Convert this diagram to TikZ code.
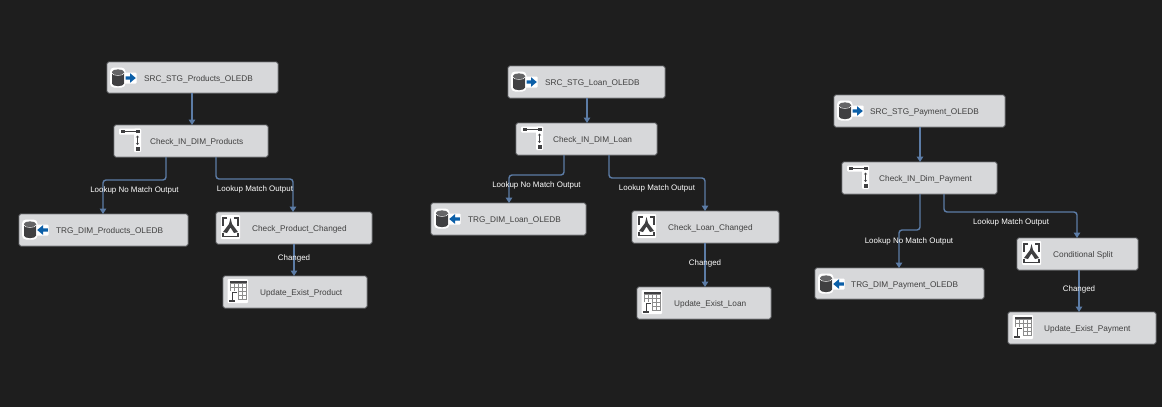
\documentclass[tikz,border=0pt]{standalone}
\usepackage{fontspec}
\setmainfont{Liberation Sans}
\usetikzlibrary{arrows.meta}
\definecolor{bgc}{HTML}{1E1E1E}
\definecolor{boxfill}{HTML}{D7D8DA}
\definecolor{boxline}{HTML}{77797D}
\definecolor{flowc}{HTML}{5C7CA6}
\definecolor{icodark}{HTML}{3F3F41}
\definecolor{icoblue}{HTML}{0B5FA8}
\definecolor{txt}{HTML}{404040}
\tikzset{
  taskbox/.style={draw=boxline,line width=.9pt,fill=boxfill,rounded corners=1.8pt,inner sep=0pt,outer sep=0pt},
  tasktext/.style={anchor=west,inner sep=0pt,yshift=-1.5pt,text=txt,font=\fontsize{8.25}{10}\selectfont},
  flowlab/.style={inner sep=0pt,yshift=-1.2pt,text=white,font=\fontsize{7.95}{9.5}\selectfont},
  flow/.style={draw=flowc,line width=1.4pt,rounded corners=3pt,-{Triangle[width=6.5pt,length=5.5pt]}}
}
% icons: drawn relative to top-left corner of a box
\newcommand{\dbshape}{%
  \fill[white,rounded corners=4pt] (3,5.5) rectangle (18.5,25.5);
  \fill[icodark] (5,10) -- (5,21.5) .. controls (5,25) and (17,25) .. (17,21.5) -- (17,10) -- cycle;
  \fill[icodark!80] (5,10) .. controls (5,6.5) and (17,6.5) .. (17,10) .. controls (17,13.5) and (5,13.5) .. (5,10) -- cycle;
  \draw[white,line width=.6pt] (5,11) .. controls (5,14.2) and (17,14.2) .. (17,11);
}
\newcommand{\icosrc}{%
  \dbshape
  \fill[white,rounded corners=1pt] (17.5,10.5) rectangle (29.5,21.5);
  \fill[icoblue] (18.5,14.4) -- (23,14.4) -- (23,11.2) -- (28.8,16) -- (23,20.8) -- (23,17.6) -- (18.5,17.6) -- cycle;
}
\newcommand{\icotrg}{%
  \dbshape
  \fill[white,rounded corners=1pt] (17.5,10.5) rectangle (29.5,21.5);
  \fill[icoblue] (28.8,14.4) -- (24,14.4) -- (24,11.2) -- (18.2,16) -- (24,20.8) -- (24,17.6) -- (28.8,17.6) -- cycle;
}
\newcommand{\icolookup}{%
  \fill[white,rounded corners=1pt] (5,3.5) rectangle (27,9.5);
  \fill[white,rounded corners=1pt] (20,3.5) rectangle (27,27);
  \fill[icodark] (6.5,4.8) rectangle (10.5,8.4);
  \fill[icodark] (21.5,4.8) rectangle (25.5,8.4);
  \fill[icodark] (21.5,22) rectangle (25.5,26);
  \draw[icodark,line width=.8pt] (10.5,6.6) -- (21.5,6.6);
  \draw[icodark,line width=.7pt,{Stealth[length=2pt,width=3pt]}-{Stealth[length=2pt,width=3pt]}] (23.5,10.5) -- (23.5,20);
}
\newcommand{\icosplit}{%
  \fill[white,rounded corners=1pt] (5,3) rectangle (24,27);
  \draw[icodark,line width=1.1pt] (11,6) -- (7,6) -- (7,14);
  \draw[icodark,line width=1.1pt] (18,6) -- (22,6) -- (22,14);
  \fill[icodark] (14.5,6) -- (16,12) -- (22,20) -- (18,21) -- (14.5,15.5) -- (11,21) -- (7,20) -- (13,12) -- cycle;
  \draw[icodark,line width=1.1pt] (7,21) -- (7,24.5) -- (22,24.5) -- (22,21);
}
\newcommand{\icotable}{%
  \fill[white,rounded corners=1pt] (4.5,3) rectangle (25,27);
  \fill[icodark] (7,5) rectangle (23.5,7.5);
  \draw[black!45,line width=.6pt] (7,7.5) rectangle (23.5,23);
  \foreach \gx in {11,15,19.5}{\draw[black!45,line width=.6pt] (\gx,7.5) -- (\gx,23);}
  \foreach \gy in {11.5,15.5,19.5}{\draw[black!45,line width=.6pt] (7,\gy) -- (23.5,\gy);}
  \fill[white] (5,15) rectangle (14.5,27);
  \draw[icodark,line width=1.3pt] (14,16.5) -- (9.5,16.5) -- (9.5,24);
  \fill[icodark] (6,23.5) rectangle (12,26);
}
% name, x0, y0, x1, y1, text x, text, icon
\newcommand{\taskitem}[8]{%
  \pgfmathsetmacro{\cxx}{(#2+#4)/2}%
  \pgfmathsetmacro{\cyy}{(#3+#5)/2}%
  \pgfmathsetmacro{\www}{#4-#2}%
  \pgfmathsetmacro{\hhh}{#5-#3}%
  \node[taskbox,minimum width=\www pt,minimum height=\hhh pt] (#1) at (\cxx,\cyy) {};
  \begin{scope}[shift={(#2,#3)}] #8 \end{scope}
  \node[tasktext] (#1t) at (#6,\cyy) {#7};
}
% from, to, bend y
\newcommand{\bentflow}[3]{%
  \coordinate (pp) at #1; \coordinate (qq) at #2; \coordinate (bb) at (0,#3);
  \draw[flow] (pp) -- (pp |- bb) -- (qq |- bb) -- (qq);
}
\begin{document}
\begin{tikzpicture}[x=1pt,y=-1pt]
\useasboundingbox (0,0) rectangle (1162,407);
\fill[bgc] (0,0) rectangle (1162,407);

% group 1
\taskitem{srcA}{107}{62}{278}{93}{144}{SRC\_STG\_Products\_OLEDB}{\icosrc}
\taskitem{chkA}{114}{125}{268}{157}{150}{Check\_IN\_DIM\_Products}{\icolookup}
\taskitem{trgA}{19}{214}{188}{246}{56}{TRG\_DIM\_Products\_OLEDB}{\icotrg}
\taskitem{cpcA}{216}{212}{372}{244}{252}{Check\_Product\_Changed}{\icosplit}
\taskitem{updA}{223}{276}{367}{308}{260}{Update\_Exist\_Product}{\icotable}
\draw[flow] ([xshift=-.5pt]srcA.south) -- ([xshift=1pt]chkA.north);
\bentflow{([xshift=-25pt]chkA.south)}{([xshift=-.5pt]trgA.north)}{180}
\bentflow{([xshift=25pt]chkA.south)}{([xshift=-1pt]cpcA.north)}{179}
\draw[flow] (cpcA.south) -- ([xshift=-1pt]updA.north);
\node[flowlab] (lnA) at (134.5,189) {Lookup No Match Output};
\node[flowlab] (lmA) at (255,188) {Lookup Match Output};
\node[flowlab] (lcA) at (294,257) {Changed};

% group 2
\taskitem{srcB}{508}{66}{665}{98}{545}{SRC\_STG\_Loan\_OLEDB}{\icosrc}
\taskitem{chkB}{516}{123}{657}{155}{553}{Check\_IN\_DIM\_Loan}{\icolookup}
\taskitem{trgB}{431}{203}{586}{235}{468}{TRG\_DIM\_Loan\_OLEDB}{\icotrg}
\taskitem{cpcB}{632}{211}{779}{243}{668}{Check\_Loan\_Changed}{\icosplit}
\taskitem{updB}{637}{287}{771}{319}{674}{Update\_Exist\_Loan}{\icotable}
\draw[flow] ([xshift=.5pt]srcB.south) -- ([xshift=.5pt]chkB.north);
\bentflow{([xshift=-22.5pt]chkB.south)}{([xshift=.5pt]trgB.north)}{175}
\bentflow{([xshift=22.5pt]chkB.south)}{([xshift=-.5pt]cpcB.north)}{178}
\draw[flow] ([xshift=-.5pt]cpcB.south) -- ([xshift=1pt]updB.north);
\node[flowlab] (lnB) at (536.5,184) {Lookup No Match Output};
\node[flowlab] (lmB) at (657,187) {Lookup Match Output};
\node[flowlab] (lcB) at (705,262) {Changed};

% group 3
\taskitem{srcC}{834}{95}{1005}{127}{870}{SRC\_STG\_Payment\_OLEDB}{\icosrc}
\taskitem{chkC}{842}{162}{997}{194}{879}{Check\_IN\_Dim\_Payment}{\icolookup}
\taskitem{trgC}{815}{268}{984}{299}{851}{TRG\_DIM\_Payment\_OLEDB}{\icotrg}
\taskitem{cpcC}{1017}{238}{1138}{270}{1053}{Conditional Split}{\icosplit}
\taskitem{updC}{1008}{312}{1156}{344}{1044}{Update\_Exist\_Payment}{\icotable}
\draw[flow] ([xshift=.5pt]srcC.south) -- ([xshift=.5pt]chkC.north);
\bentflow{([xshift=.5pt]chkC.south)}{([xshift=-.5pt]trgC.north)}{230}
\bentflow{([xshift=24.5pt]chkC.south)}{([xshift=-.5pt]cpcC.north)}{212}
\draw[flow] ([xshift=1.5pt]cpcC.south) -- ([xshift=-3pt]updC.north);
\node[flowlab] (lnC) at (909,240) {Lookup No Match Output};
\node[flowlab] (lmC) at (1011,221) {Lookup Match Output};
\node[flowlab] (lcC) at (1079,288) {Changed};
\end{tikzpicture}
\end{document}
